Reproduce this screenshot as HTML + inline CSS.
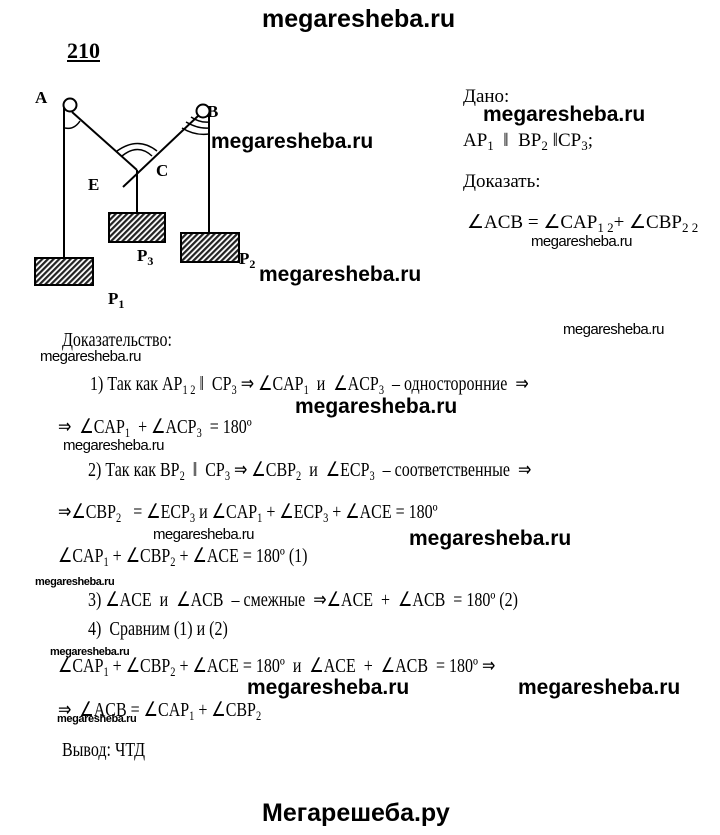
<!DOCTYPE html>
<html><head><meta charset="utf-8"><style>
body{margin:0;width:720px;height:835px;background:#fff;position:relative;overflow:hidden;color:#000}
.t{position:absolute;white-space:nowrap;font-family:"Liberation Serif",serif;font-size:19px;line-height:22px}
.p{transform:scaleX(0.8);transform-origin:0 0;font-size:20px}
.w{position:absolute;white-space:nowrap;font-family:"Liberation Sans",sans-serif;font-weight:bold;font-size:21px;line-height:24px;letter-spacing:0px}
.s{position:absolute;white-space:nowrap;font-family:"Liberation Sans",sans-serif;font-size:15px;line-height:18px;letter-spacing:-0.6px}
.x{position:absolute;white-space:nowrap;font-family:"Liberation Sans",sans-serif;font-weight:bold;font-size:11px;line-height:13px;letter-spacing:-0.4px}
sub{font-size:13px;vertical-align:-4px;line-height:0}
</style></head><body>
<div class="w" style="left:262px;top:7px;font-size:25px">megaresheba.ru</div>
<div class="t" style="left:67px;top:40px;font-weight:bold;font-size:22px;text-decoration:underline">210</div>

<svg style="position:absolute;left:0;top:0" width="300" height="310">
<defs><pattern id="h" width="4" height="4" patternUnits="userSpaceOnUse" patternTransform="rotate(45)"><rect width="4" height="4" fill="#fff"/><rect width="2.2" height="4" fill="#222"/></pattern></defs>
<g stroke="#000" stroke-width="2" fill="none">
<line x1="64" y1="108" x2="64" y2="258"/>
<line x1="72" y1="112" x2="137" y2="170"/>
<line x1="198" y1="116" x2="123" y2="187"/>
<line x1="137" y1="170" x2="137" y2="213"/>
<line x1="209" y1="112" x2="209" y2="233"/>
<circle cx="70" cy="105" r="6.5" fill="#fff"/>
<circle cx="203" cy="111" r="6.5" fill="#fff"/>
<path d="M65 128 Q74 130 80 121" stroke-width="1.5"/>
<path d="M117 151 Q138 136 157 151" stroke-width="1.5"/>
<path d="M122 156 Q138 143 152 156" stroke-width="1.5"/>
<path d="M182 128 Q195 136 209 134" stroke-width="1.5"/>
<path d="M186 122 Q198 129 209 128" stroke-width="1.5"/>
<path d="M191 117 Q200 123 209 122" stroke-width="1.5"/>
</g>
<rect x="35" y="258" width="58" height="27" fill="url(#h)" stroke="#000" stroke-width="2"/>
<rect x="109" y="213" width="56" height="29" fill="url(#h)" stroke="#000" stroke-width="2"/>
<rect x="181" y="233" width="58" height="29" fill="url(#h)" stroke="#000" stroke-width="2"/>
<g font-family="Liberation Serif" font-size="17" font-weight="bold">
<text x="35" y="103">A</text><text x="207" y="117">B</text><text x="156" y="176">C</text><text x="88" y="190">E</text>
<text x="137" y="261">P<tspan font-size="12" dy="4">3</tspan></text>
<text x="239" y="264">P<tspan font-size="12" dy="4">2</tspan></text>
<text x="108" y="304">P<tspan font-size="12" dy="4">1</tspan></text>
</g></svg>
<div class="w" style="left:211px;top:130px">megaresheba.ru</div>
<div class="w" style="left:259px;top:263px">megaresheba.ru</div>

<div class="t" style="left:463px;top:86px">Дано:</div>
<div class="w" style="left:483px;top:103px">megaresheba.ru</div>
<div class="t" style="left:463px;top:130px">AP<sub>1</sub> &nbsp;‖ &nbsp;BP<sub>2</sub> ‖CP<sub>3</sub>;</div>
<div class="t" style="left:463px;top:171px">Доказать:</div>
<div class="t" style="left:467px;top:212px">∠ACB = ∠CAP<sub>1 2</sub>+ ∠CBP<sub>2 2</sub></div>
<div class="s" style="left:531px;top:233px">megaresheba.ru</div>

<div class="s" style="left:563px;top:321px">megaresheba.ru</div>
<div class="t p" style="left:62px;top:329px">Доказательство:</div>
<div class="s" style="left:40px;top:348px">megaresheba.ru</div>
<div class="t p" style="left:90px;top:373px">1) Так как AP<sub>1 2</sub> ‖ &nbsp;CP<sub>3</sub> ⇒ ∠CAP<sub>1</sub> &nbsp;и &nbsp;∠ACP<sub>3</sub> &nbsp;– односторонние &nbsp;⇒</div>
<div class="w" style="left:295px;top:395px">megaresheba.ru</div>
<div class="t p" style="left:58px;top:416px">⇒ &nbsp;∠CAP<sub>1</sub> &nbsp;+ ∠ACP<sub>3</sub> &nbsp;= 180º</div>
<div class="s" style="left:63px;top:437px">megaresheba.ru</div>
<div class="t p" style="left:88px;top:459px">2) Так как BP<sub>2</sub> &nbsp;‖ &nbsp;CP<sub>3</sub> ⇒ ∠CBP<sub>2</sub> &nbsp;и &nbsp;∠ECP<sub>3</sub> &nbsp;– соответственные &nbsp;⇒</div>
<div class="t p" style="left:58px;top:501px">⇒∠CBP<sub>2</sub> &nbsp;&nbsp;= ∠ECP<sub>3</sub> и ∠CAP<sub>1</sub> + ∠ECP<sub>3</sub> + ∠ACE = 180º</div>
<div class="s" style="left:153px;top:526px">megaresheba.ru</div>
<div class="w" style="left:409px;top:527px">megaresheba.ru</div>
<div class="t p" style="left:58px;top:545px">∠CAP<sub>1</sub> + ∠CBP<sub>2</sub> + ∠ACE = 180º (1)</div>
<div class="x" style="left:35px;top:576px">megaresheba.ru</div>
<div class="t p" style="left:88px;top:589px">3) ∠ACE &nbsp;и &nbsp;∠ACB &nbsp;– смежные &nbsp;⇒∠ACE &nbsp;+ &nbsp;∠ACB &nbsp;= 180º (2)</div>
<div class="t p" style="left:88px;top:618px">4) &nbsp;Сравним (1) и (2)</div>
<div class="x" style="left:50px;top:646px">megaresheba.ru</div>
<div class="t p" style="left:58px;top:655px">∠CAP<sub>1</sub> + ∠CBP<sub>2</sub> + ∠ACE = 180º &nbsp;и &nbsp;∠ACE &nbsp;+ &nbsp;∠ACB &nbsp;= 180º ⇒</div>
<div class="w" style="left:247px;top:676px">megaresheba.ru</div>
<div class="w" style="left:518px;top:676px">megaresheba.ru</div>
<div class="t p" style="left:58px;top:699px">⇒ &nbsp;∠ACB = ∠CAP<sub>1</sub> + ∠CBP<sub>2</sub></div>
<div class="x" style="left:57px;top:713px">megaresheba.ru</div>
<div class="t p" style="left:62px;top:739px">Вывод: ЧТД</div>
<div class="w" style="left:262px;top:801px;font-size:25px">Мегарешеба.ру</div>
</body></html>
